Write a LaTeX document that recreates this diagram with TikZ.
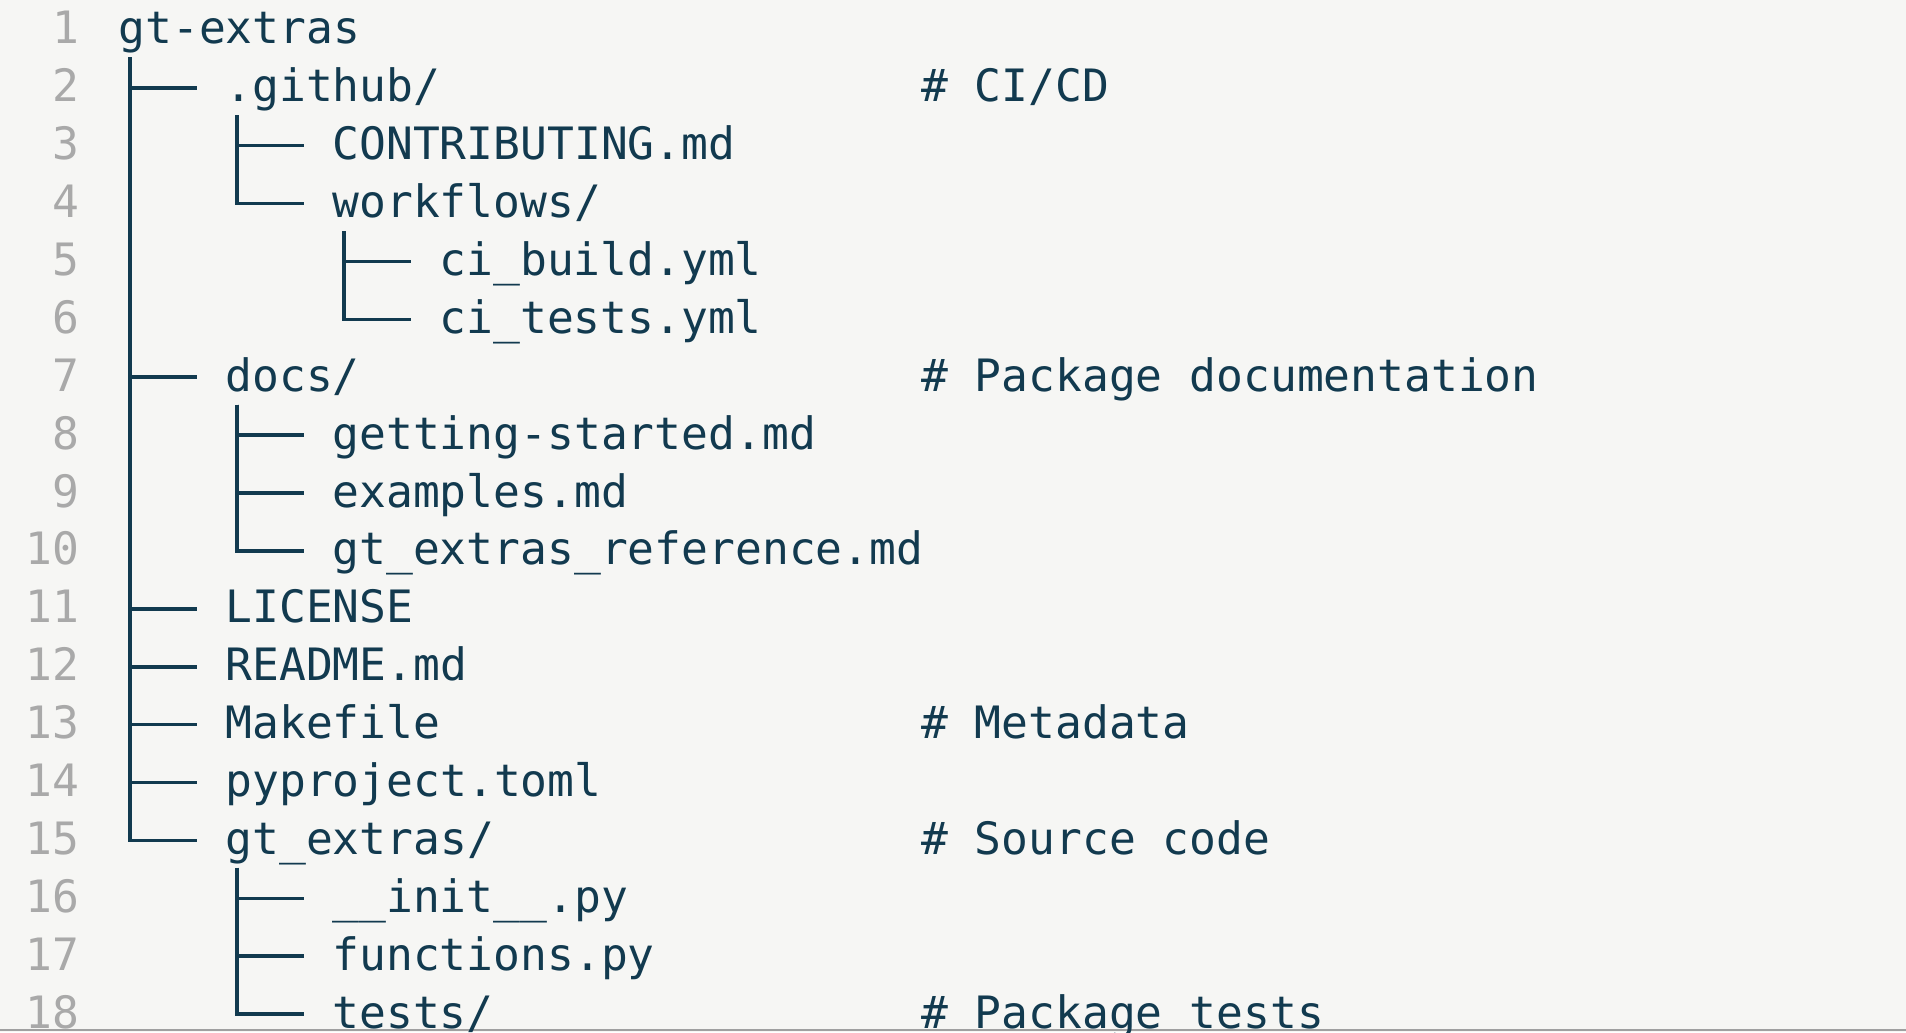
\documentclass[tikz,border=0pt]{standalone}
\usepackage{fontspec}
\setmonofont{DejaVu Sans Mono}
\usepackage{xcolor}
\usetikzlibrary{calc}

\definecolor{codeink}{HTML}{123A4F}
\definecolor{numink}{HTML}{A9A9A9}
\definecolor{paper}{HTML}{F6F6F4}
\definecolor{rulegrey}{HTML}{A0A0A0}

\begin{document}
\begin{tikzpicture}[x=6.6875pt, y=-14.475pt]
	\tikzstyle{entry}
	  =[anchor=base west, inner sep=0, outer sep=0, text=codeink,
	  xshift=0.5pt, font=\ttfamily\fontsize{11.15pt}{13pt}\selectfont]
	\tikzstyle{note}
	  =[entry]
	\tikzstyle{lineno}
	  =[anchor=base east, inner sep=0, outer sep=0, text=numink,
	  font=\ttfamily\fontsize{11.15pt}{13pt}\selectfont]
	\tikzstyle{branch}
	  =[draw=codeink, line width=0.9pt]

	\fill[paper] (0pt,0pt) rectangle (476.5pt,-258pt);
	\useasboundingbox (0pt,0pt) rectangle (476.5pt,-258pt);
	\draw[rulegrey, line width=0.6pt] (0pt,-257.5pt) -- (476.5pt,-257.5pt);

	\begin{scope}[shift={(29.15pt,-10.95pt)}]
	% line numbers
	\foreach \n in {1,...,18}
	  \node[lineno] (num\n) at (-1.41,\n-1) {\n};

	% tree entries
	\node[entry] (root) at (0,0) {gt-extras};
	\node[entry] (github) at (4,1) {.github/};
	\node[entry] (contrib) at (8,2) {CONTRIBUTING.md};
	\node[entry] (workflows) at (8,3) {workflows/};
	\node[entry] (cibuild) at (12,4) {ci\_build.yml};
	\node[entry] (citests) at (12,5) {ci\_tests.yml};
	\node[entry] (docs) at (4,6) {docs/};
	\node[entry] (started) at (8,7) {getting-started.md};
	\node[entry] (examples) at (8,8) {examples.md};
	\node[entry] (reference) at (8,9) {gt\_extras\_reference.md};
	\node[entry] (license) at (4,10) {LICENSE};
	\node[entry] (readme) at (4,11) {README.md};
	\node[entry] (makefile) at (4,12) {Makefile};
	\node[entry] (pyproject) at (4,13) {pyproject.toml};
	\node[entry] (gtextras) at (4,14) {gt\_extras/};
	\node[entry] (init) at (8,15) {\_\_init\_\_.py};
	\node[entry] (functions) at (8,16) {functions.py};
	\node[entry] (tests) at (8,17) {tests/};

	% comments
	\node[note] (cicd) at (30,1) {\# CI/CD};
	\node[note] (docnote) at (30,6) {\# Package documentation};
	\node[note] (metanote) at (30,12) {\# Metadata};
	\node[note] (srcnote) at (30,14) {\# Source code};
	\node[note] (testnote) at (30,17) {\# Package tests};

	% branches (offsets undo the text shift)
	\draw[branch] ($(root.base west)+(0.425,0.233)$) |- ($(github.base west)+(-1.075,-0.242)$);
	\draw[branch] ($(root.base west)+(0.425,0.233)$) |- ($(docs.base west)+(-1.075,-0.242)$);
	\draw[branch] ($(root.base west)+(0.425,0.233)$) |- ($(license.base west)+(-1.075,-0.242)$);
	\draw[branch] ($(root.base west)+(0.425,0.233)$) |- ($(readme.base west)+(-1.075,-0.242)$);
	\draw[branch] ($(root.base west)+(0.425,0.233)$) |- ($(makefile.base west)+(-1.075,-0.242)$);
	\draw[branch] ($(root.base west)+(0.425,0.233)$) |- ($(pyproject.base west)+(-1.075,-0.242)$);
	\draw[branch] ($(root.base west)+(0.425,0.233)$) |- ($(gtextras.base west)+(-1.075,-0.242)$);
	\draw[branch] ($(github.base west)+(0.425,0.233)$) |- ($(contrib.base west)+(-1.075,-0.242)$);
	\draw[branch] ($(github.base west)+(0.425,0.233)$) |- ($(workflows.base west)+(-1.075,-0.242)$);
	\draw[branch] ($(workflows.base west)+(0.425,0.233)$) |- ($(cibuild.base west)+(-1.075,-0.242)$);
	\draw[branch] ($(workflows.base west)+(0.425,0.233)$) |- ($(citests.base west)+(-1.075,-0.242)$);
	\draw[branch] ($(docs.base west)+(0.425,0.233)$) |- ($(started.base west)+(-1.075,-0.242)$);
	\draw[branch] ($(docs.base west)+(0.425,0.233)$) |- ($(examples.base west)+(-1.075,-0.242)$);
	\draw[branch] ($(docs.base west)+(0.425,0.233)$) |- ($(reference.base west)+(-1.075,-0.242)$);
	\draw[branch] ($(gtextras.base west)+(0.425,0.233)$) |- ($(init.base west)+(-1.075,-0.242)$);
	\draw[branch] ($(gtextras.base west)+(0.425,0.233)$) |- ($(functions.base west)+(-1.075,-0.242)$);
	\draw[branch] ($(gtextras.base west)+(0.425,0.233)$) |- ($(tests.base west)+(-1.075,-0.242)$);
	\end{scope}
\end{tikzpicture}
\end{document}
